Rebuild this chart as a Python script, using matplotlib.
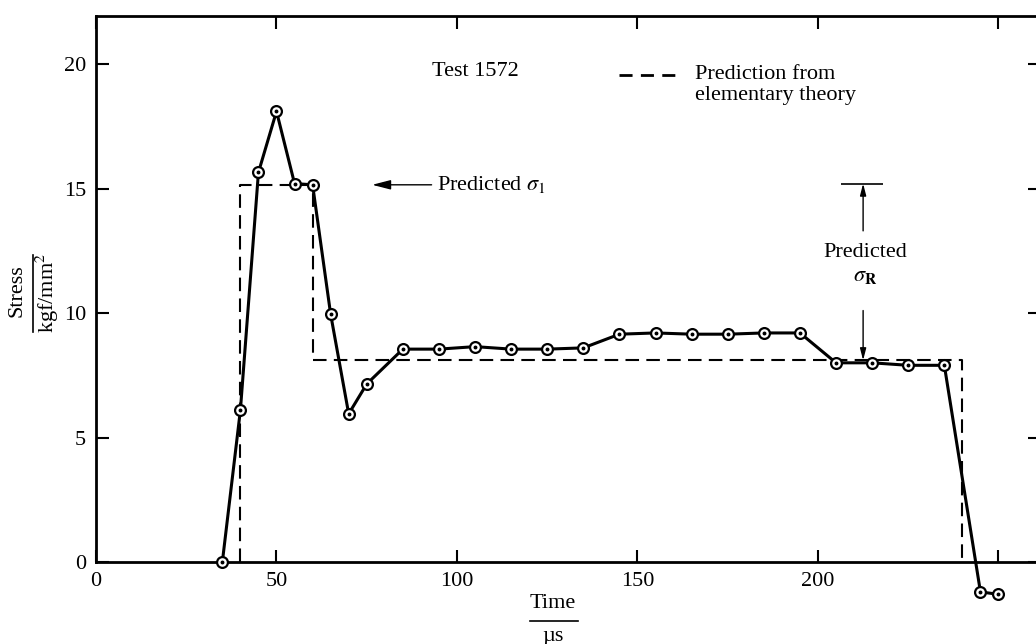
import matplotlib.pyplot as plt
from matplotlib.lines import Line2D

plt.rcParams['font.family'] = ['Liberation Serif', 'DejaVu Serif']
plt.rcParams['mathtext.fontset'] = 'stix'

# measured stress, test 1572
time_us = [35, 40, 45, 50, 55, 60, 65, 70, 75, 85, 95, 105, 115, 125, 135,
           145, 155, 165, 175, 185, 195, 205, 215, 225, 235, 245, 250]
stress = [0.0, 6.1, 15.65, 18.1, 15.2, 15.15, 9.95, 5.95, 7.15, 8.55, 8.55,
          8.65, 8.55, 8.55, 8.6, 9.15, 9.2, 9.15, 9.15, 9.2, 9.2, 8.0, 8.0,
          7.9, 7.9, -1.2, -1.3]

# prediction from elementary theory
pred_t = [40, 40, 60, 60, 240, 240]
pred_s = [0.0, 15.15, 15.15, 8.1, 8.1, 0.0]
sigma_1 = pred_s[1]
sigma_R = pred_s[3]

x_ticks = [0, 50, 100, 150, 200, 250]
x_labels = ['0', '50', '100', '150', '200', '']
y_ticks = [0, 5, 10, 15, 20]

W, H = 1036, 644
fig = plt.figure(figsize=(W / 100, H / 100), dpi=100)
ax = fig.add_axes([96 / W, 82 / H, 944 / W, 546 / H])

ax.plot(pred_t, pred_s, color='black', lw=1.5, dashes=(6.5, 3.5), zorder=2)
ax.plot(time_us, stress, color='black', lw=2.2, zorder=3, clip_on=False)
ax.plot(time_us, stress, ls='none', marker='o', ms=7.8, mfc='white',
        mec='black', mew=1.6, zorder=4, clip_on=False)
ax.plot(time_us, stress, ls='none', marker='o', ms=1.8, color='black',
        zorder=5, clip_on=False)

ax.set_xlim(0, 261.5)
ax.set_ylim(0, 21.93)
ax.set_xticks(x_ticks, x_labels)
ax.set_yticks(y_ticks)
ax.tick_params(direction='in', length=9, width=1.5, labelsize=16,
               top=True, right=True, pad=7)
for s in ax.spines.values():
    s.set_linewidth(2)

# axis labels as quantity / unit
fig.text(553 / W, 1 - 603 / H, 'Time', fontsize=16, ha='center', va='center')
fig.add_artist(Line2D([530 / W, 578 / W], [1 - 621 / H, 1 - 621 / H],
                      color='black', lw=1.2))
fig.text(553 / W, 1 - 636 / H, 'µs', fontsize=16, ha='center', va='center')

fig.text(17 / W, 1 - 291 / H, 'Stress', fontsize=16, rotation=90,
         ha='center', va='center')
fig.add_artist(Line2D([33 / W, 33 / W], [1 - 255 / H, 1 - 332 / H],
                      color='black', lw=1.2))
fig.text(47 / W, 1 - 293 / H, 'kgf/mm$^2$', fontsize=16, rotation=90,
         ha='center', va='center')

ax.text(105, 19.7, 'Test 1572', fontsize=16, ha='center', va='center')

# legend key for the dashed prediction
ax.add_line(Line2D([145, 161], [19.55, 19.55], color='black', lw=2,
                   dashes=(4.7, 3.0)))
ax.text(166, 19.16, 'Prediction from\nelementary theory', fontsize=16,
        ha='left', va='center', linespacing=1.15)

ax.annotate(r'Predicted $\sigma_1$', xy=(76.5, sigma_1), xytext=(94.5, sigma_1),
            fontsize=16, ha='left', va='center',
            arrowprops=dict(arrowstyle='-|>,head_length=0.7,head_width=0.18',
                            color='black', lw=1, shrinkA=2, shrinkB=0))

ax.hlines(sigma_1 + 0.05, 206.5, 218, color='black', lw=1.2)
ax.annotate('', xy=(212.5, sigma_1 + 0.05), xytext=(212.5, 13.3),
            arrowprops=dict(arrowstyle='-|>,head_length=0.7,head_width=0.18',
                            color='black', lw=1, shrinkA=0, shrinkB=0))
ax.text(213, 11.95, 'Predicted\n' + r'$\sigma_\mathbf{R}$', fontsize=16,
        ha='center', va='center', linespacing=1.3)
ax.annotate('', xy=(212.5, sigma_R), xytext=(212.5, 10.1),
            arrowprops=dict(arrowstyle='-|>,head_length=0.7,head_width=0.18',
                            color='black', lw=1, shrinkA=0, shrinkB=0))

fig.savefig('out.png', dpi=100)
